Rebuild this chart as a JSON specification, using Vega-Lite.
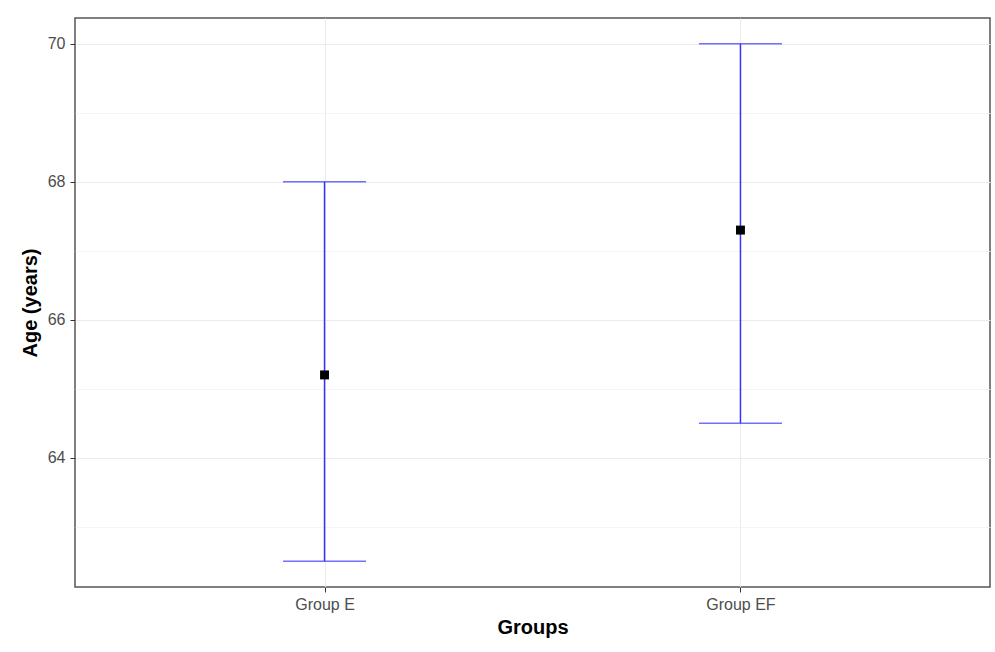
{
  "$schema": "https://vega.github.io/schema/vega-lite/v6.json",
  "autosize": {"type": "none"},
  "width": 915,
  "height": 569,
  "padding": {"left": 75, "top": 18, "right": 5, "bottom": 65},
  "background": "white",
  "config": {
    "font": "Liberation Sans",
    "view": {"stroke": "#555555", "strokeWidth": 1.5},
    "axis": {
      "domain": false,
      "gridColor": "#EBEBEB",
      "gridWidth": 1,
      "tickColor": "#333333",
      "tickSize": 5,
      "tickWidth": 1,
      "labelColor": "#4D4D4D",
      "labelFontSize": 16,
      "labelFont": "Liberation Sans",
      "titleFont": "Liberation Sans",
      "titleFontSize": 20,
      "titleFontWeight": "bold",
      "titleColor": "#000000"
    }
  },
  "data": {
    "values": [
      {"group": "Group E", "mean": 65.2, "lower": 62.5, "upper": 68.0},
      {"group": "Group EF", "mean": 67.3, "lower": 64.5, "upper": 70.0}
    ]
  },
  "encoding": {
    "x": {
      "field": "group",
      "type": "nominal",
      "scale": {"type": "point", "padding": 0.6},
      "axis": {"title": "Groups", "labelAngle": 0, "labelPadding": 4, "titlePadding": 5, "grid": true}
    }
  },
  "layer": [
    {
      "mark": {"type": "rule", "color": "#3333FF", "strokeWidth": 1.5},
      "encoding": {
        "y": {
          "field": "lower",
          "type": "quantitative",
          "scale": {"domain": [62.125, 70.375], "nice": false, "zero": false},
          "axis": {
            "title": "Age (years)",
            "format": "d",
            "values": [63, 64, 65, 66, 67, 68, 69, 70],
            "labelExpr": "datum.value % 2 == 0 ? datum.label : ''",
            "gridColor": {"condition": {"test": "datum.value % 2 == 0", "value": "#EBEBEB"}, "value": "#F2F2F2"},
            "gridWidth": {"condition": {"test": "datum.value % 2 == 0", "value": 1}, "value": 0.8},
            "tickOpacity": {"condition": {"test": "datum.value % 2 == 0", "value": 1}, "value": 0},
            "labelPadding": 5,
            "titlePadding": 7
          }
        },
        "y2": {"field": "upper"}
      }
    },
    {
      "mark": {"type": "tick", "color": "#3333FF", "size": 83, "thickness": 1.5, "orient": "horizontal"},
      "encoding": {"y": {"field": "lower", "type": "quantitative"}}
    },
    {
      "mark": {"type": "tick", "color": "#3333FF", "size": 83, "thickness": 1.5, "orient": "horizontal"},
      "encoding": {"y": {"field": "upper", "type": "quantitative"}}
    },
    {
      "mark": {"type": "square", "color": "#000000", "filled": true, "size": 80, "opacity": 1},
      "encoding": {"y": {"field": "mean", "type": "quantitative"}}
    }
  ]
}
